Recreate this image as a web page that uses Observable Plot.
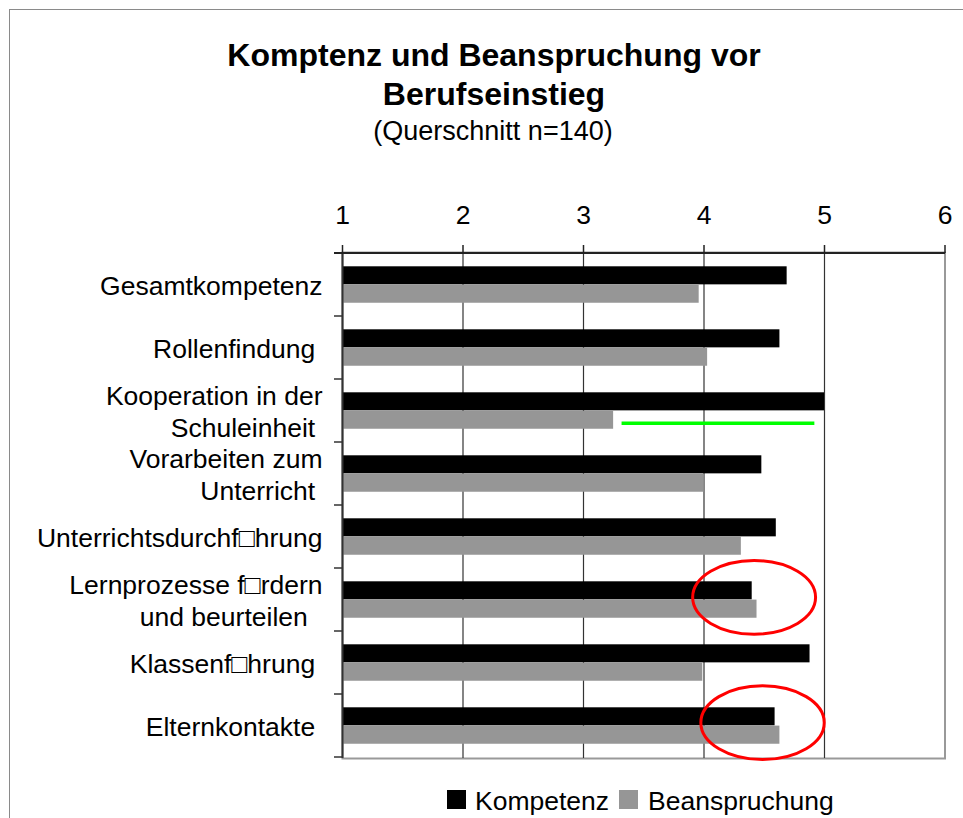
<!DOCTYPE html>
<html>
<head>
<meta charset="utf-8">
<script src="https://cdn.jsdelivr.net/npm/d3@7"></script>
<script src="https://cdn.jsdelivr.net/npm/@observablehq/plot@0.6"></script>
<style>
  html, body { margin: 0; padding: 0; background: #fff; }
  #wrap { position: relative; width: 963px; height: 818px; overflow: hidden; background: #fff;
          font-family: "Liberation Sans", Arial, sans-serif; color: #000; }
  #chart { position: absolute; left: 0; top: 0; }
  #border { position: absolute; left: 9px; top: 9px; width: 1000px; height: 900px;
            border-left: 1.5px solid #8a8a8a; border-top: 1.5px solid #8a8a8a; pointer-events: none; }
  #title { position: absolute; left: 0; width: 988px; top: 36px; text-align: center;
           font-weight: bold; font-size: 32px; line-height: 39px; }
  #subtitle { position: absolute; left: 0; width: 986px; top: 116px; text-align: center;
              font-size: 27px; line-height: 31px; }
  #legend { position: absolute; left: 0; top: 0; width: 963px; height: 818px; pointer-events: none; }
  .sw { position: absolute; width: 19px; height: 19px; top: 790px; }
  .lt { position: absolute; top: 786px; font-size: 26.5px; line-height: 30px; white-space: nowrap; }
</style>
</head>
<body>
<div id="wrap">
  <div id="chart"></div>
  <div id="border"></div>
  <div id="title">Komptenz und Beanspruchung vor<br>Berufseinstieg</div>
  <div id="subtitle">(Querschnitt n=140)</div>
  <div id="legend"></div>
</div>
<script>
// ---------- data ----------
const categories = [
  "Gesamtkompetenz",
  "Rollenfindung\u00a0",
  "Kooperation in der\nSchuleinheit\u00a0",
  "Vorarbeiten zum\nUnterricht\u00a0",
  "Unterrichtsdurchf\u25a1hrung",
  "Lernprozesse f\u25a1rdern\nund beurteilen\u00a0\u00a0",
  "Klassenf\u25a1hrung\u00a0",
  "Elternkontakte\u00a0"
];
const kompetenz     = [4.69, 4.63, 5.00, 4.48, 4.60, 4.40, 4.88, 4.59];
const beanspruchung = [3.96, 4.03, 3.25, 4.00, 4.31, 4.44, 3.99, 4.63];
const seriesNames  = ["Kompetenz", "Beanspruchung"];
const seriesColors = ["#000000", "#969696"];
const xTicks = [1, 2, 3, 4, 5, 6];
const gridValues = [2, 3, 4, 5];

// annotations (hand-drawn marks in the original)
const ellipseCategories = [categories[5], categories[7]];
const ellipseCenterX    = [4.42, 4.49];
const ellipseRadiusX    = [0.51, 0.512];
const ellipseCenterBand = [0.466, 0.455];
const ellipseRadiusBand = [0.585, 0.585];
const lineCategory = categories[2];
const lineX = [3.32, 4.92];
const lineBand = 0.704;

// ---------- table ----------
const rows = [];
categories.forEach((c, i) => {
  rows.push({category: c, series: seriesNames[0], value: kompetenz[i]});
  rows.push({category: c, series: seriesNames[1], value: beanspruchung[i]});
});
const rowsK = rows.filter(d => d.series === seriesNames[0]);
const rowsB = rows.filter(d => d.series === seriesNames[1]);

const W = 963, H = 790, mTop = 252, mLeft = 342, mRight = 18.5, mBottom = 32;
const band = (H - mTop - mBottom) / categories.length;

function decorations(index, scales) {
  const sx = scales.x, sy = scales.y;
  const bw = sy.bandwidth ? sy.bandwidth() : band;
  const g = d3.create("svg:g");
  const x0 = sx(xTicks[0]), x1 = sx(xTicks[xTicks.length - 1]);
  const yTop = sy(categories[0]);
  // top axis line
  g.append("line").attr("x1", x0 - 8).attr("x2", x1 + 0.5).attr("y1", yTop).attr("y2", yTop)
    .attr("stroke", "#222").attr("stroke-width", 2);
  // category tick marks at band boundaries
  for (let i = 1; i <= categories.length; i++) {
    const y = i < categories.length ? sy(categories[i]) : sy(categories[i - 1]) + bw;
    g.append("line").attr("x1", x0 - 8).attr("x2", x0).attr("y1", y).attr("y2", y)
      .attr("stroke", "#333").attr("stroke-width", 1.5);
  }
  // green marker line
  const gy = sy(lineCategory) + lineBand * bw;
  g.append("line").attr("x1", sx(lineX[0])).attr("x2", sx(lineX[1])).attr("y1", gy).attr("y2", gy)
    .attr("stroke", "#00ff00").attr("stroke-width", 3.5);
  // red ellipses
  ellipseCategories.forEach((c, i) => {
    const cx = sx(ellipseCenterX[i]);
    const rx = sx(ellipseCenterX[i] + ellipseRadiusX[i]) - cx;
    g.append("ellipse")
      .attr("cx", cx).attr("cy", sy(c) + ellipseCenterBand[i] * bw)
      .attr("rx", rx).attr("ry", ellipseRadiusBand[i] * bw)
      .attr("fill", "none").attr("stroke", "#ff0000").attr("stroke-width", 3);
  });
  return g.node();
}

const chart = Plot.plot({
  width: W, height: H,
  marginTop: mTop, marginLeft: mLeft, marginRight: mRight, marginBottom: mBottom,
  style: {background: "transparent", fontFamily: "'Liberation Sans', Arial, sans-serif", fontSize: "26.5px", overflow: "visible"},
  x: {domain: [xTicks[0], xTicks[xTicks.length - 1]]},
  y: {domain: categories, padding: 0, axis: null},
  color: {domain: seriesNames, range: seriesColors},
  marks: [
    Plot.frame({stroke: "#999", strokeWidth: 2}),
    Plot.ruleX(gridValues, {stroke: "#333", strokeWidth: 1.2}),
    Plot.barX(rowsK, {x1: () => xTicks[0], x2: "value", y: "category", fill: "series", insetTop: 13.3, insetBottom: band - 31.6}),
    Plot.barX(rowsB, {x1: () => xTicks[0], x2: "value", y: "category", fill: "series", insetTop: 31.6, insetBottom: band - 50}),
    Plot.ruleX([xTicks[0]], {stroke: "#333", strokeWidth: 2}),
    Plot.axisX({anchor: "top", ticks: xTicks, tickSize: 8, tickPadding: 21, fontSize: 26.5,
                tickFormat: d => `${d}`, label: null, stroke: "#222", strokeWidth: 1.5}),
    Plot.text(categories, {y: d => d, text: d => d, frameAnchor: "left", textAnchor: "end",
                           dx: -20, fontSize: 26.5, lineHeight: 1.2, fill: "#000"}),
    decorations
  ]
});
document.getElementById("chart").appendChild(chart);

// ---------- legend ----------
const legend = d3.select("#legend");
const swatchLeft = [447, 619];
const textLeft = [475, 648];
seriesNames.forEach((s, i) => {
  legend.append("div").attr("class", "sw").style("left", swatchLeft[i] + "px").style("background", seriesColors[i]);
  legend.append("div").attr("class", "lt").style("left", textLeft[i] + "px").text(s);
});
</script>
</body>
</html>
